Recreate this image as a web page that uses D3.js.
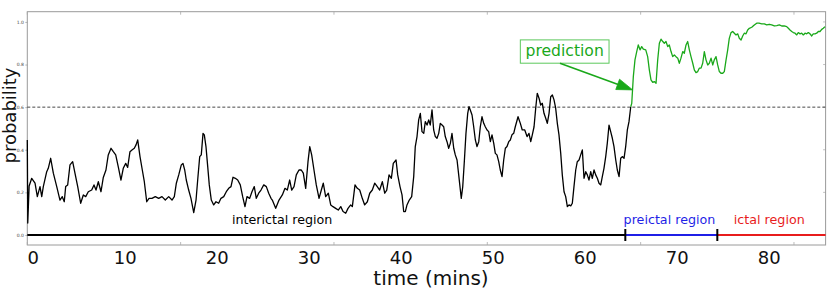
<!DOCTYPE html>
<html>
<head>
<meta charset="utf-8">
<script src="https://cdn.jsdelivr.net/npm/d3@7"></script>
<style>
    body { margin: 0; background: #fff; }
    text { font-family: "DejaVu Sans", sans-serif; }
</style>
</head>
<body>
<svg></svg>
<script>
// trace before the prediction (minutes, probability)
var interictalTrace = [
    [0.00, 0.446], [0.05, 0.056], [0.20, 0.230], [0.48, 0.266], [0.84, 0.243], [1.09, 0.180], [1.38, 0.227],
    [1.57, 0.180], [1.74, 0.227], [2.11, 0.297], [2.28, 0.313], [2.54, 0.360], [2.83, 0.290], [3.20, 0.227],
    [3.55, 0.164], [3.80, 0.180], [4.02, 0.156], [4.17, 0.227], [4.39, 0.235], [4.64, 0.329], [4.93, 0.344],
    [5.18, 0.290], [5.48, 0.227], [5.80, 0.149], [6.09, 0.188], [6.35, 0.180], [6.63, 0.203], [7.00, 0.211],
    [7.25, 0.235], [7.47, 0.211], [7.72, 0.250], [8.01, 0.203], [8.26, 0.270], [8.55, 0.305], [8.80, 0.376],
    [9.10, 0.407], [9.35, 0.391], [9.61, 0.376], [9.89, 0.320], [10.18, 0.258], [10.43, 0.313], [10.70, 0.336],
    [10.91, 0.317], [11.16, 0.391], [11.41, 0.400], [11.63, 0.407], [11.82, 0.423], [12.00, 0.446], [12.25, 0.368],
    [12.50, 0.305], [12.72, 0.250], [12.98, 0.156], [13.23, 0.172], [13.55, 0.172], [13.91, 0.180], [14.28, 0.172],
    [14.64, 0.180], [15.00, 0.164], [15.37, 0.180], [15.73, 0.164], [15.98, 0.180], [16.20, 0.243], [16.46, 0.282],
    [16.74, 0.329], [16.92, 0.336], [17.11, 0.305], [17.28, 0.258], [17.54, 0.211], [17.79, 0.172], [18.09, 0.105],
    [18.34, 0.164], [18.52, 0.258], [18.74, 0.368], [18.91, 0.376], [19.10, 0.477], [19.24, 0.470], [19.42, 0.415],
    [19.61, 0.321], [19.78, 0.235], [20.00, 0.164], [20.26, 0.141], [20.51, 0.156], [20.80, 0.149], [21.05, 0.172],
    [21.35, 0.180], [21.63, 0.203], [21.89, 0.219], [22.14, 0.227], [22.36, 0.271], [22.61, 0.266], [22.87, 0.258],
    [23.15, 0.235], [23.41, 0.180], [23.66, 0.133], [23.88, 0.180], [24.17, 0.172], [24.42, 0.203], [24.67, 0.227],
    [24.89, 0.172], [25.15, 0.196], [25.40, 0.211], [25.70, 0.235], [25.98, 0.227], [26.24, 0.196], [26.49, 0.172],
    [26.63, 0.164], [27.00, 0.125], [27.36, 0.164], [27.72, 0.188], [28.01, 0.219], [28.26, 0.211], [28.52, 0.258],
    [28.74, 0.211], [28.99, 0.227], [29.24, 0.282], [29.53, 0.305], [29.78, 0.305], [30.00, 0.290], [30.26, 0.219],
    [30.51, 0.344], [30.70, 0.415], [30.91, 0.376], [31.16, 0.305], [31.41, 0.235], [31.71, 0.172], [31.96, 0.211],
    [32.17, 0.243], [32.43, 0.180], [32.72, 0.196], [32.98, 0.141], [33.23, 0.133], [33.52, 0.125], [33.80, 0.117],
    [34.07, 0.133], [34.32, 0.110], [34.61, 0.102], [34.86, 0.125], [35.15, 0.141], [35.33, 0.133], [35.62, 0.235],
    [35.87, 0.219], [36.13, 0.211], [36.41, 0.172], [36.67, 0.141], [36.96, 0.156], [37.22, 0.196], [37.50, 0.211],
    [37.76, 0.243], [38.04, 0.227], [38.30, 0.211], [38.59, 0.250], [38.85, 0.196], [39.07, 0.211], [39.32, 0.282],
    [39.57, 0.266], [39.78, 0.336], [40.08, 0.352], [40.26, 0.282], [40.51, 0.227], [40.73, 0.188], [40.91, 0.110],
    [41.09, 0.110], [41.27, 0.141], [41.52, 0.164], [41.78, 0.180], [42.00, 0.274], [42.17, 0.415], [42.36, 0.462],
    [42.54, 0.540], [42.72, 0.571], [42.90, 0.485], [43.09, 0.477], [43.26, 0.532], [43.45, 0.516], [43.63, 0.540],
    [43.80, 0.516], [43.99, 0.587], [44.17, 0.493], [44.35, 0.462], [44.53, 0.454], [44.72, 0.477], [44.89, 0.524],
    [45.08, 0.516], [45.26, 0.508], [45.43, 0.462], [45.62, 0.438], [45.80, 0.407], [45.98, 0.430], [46.16, 0.477],
    [46.35, 0.407], [46.52, 0.376], [46.71, 0.352], [46.89, 0.282], [47.07, 0.211], [47.17, 0.172], [47.33, 0.227],
    [47.50, 0.344], [47.68, 0.477], [47.87, 0.571], [48.01, 0.602], [48.15, 0.587], [48.34, 0.563], [48.52, 0.508],
    [48.70, 0.446], [48.88, 0.415], [49.07, 0.438], [49.24, 0.508], [49.42, 0.555], [49.61, 0.524], [49.78, 0.508],
    [49.97, 0.493], [50.15, 0.485], [50.33, 0.438], [50.51, 0.470], [50.70, 0.430], [50.87, 0.383], [51.05, 0.376],
    [51.24, 0.344], [51.41, 0.305], [51.60, 0.274], [51.78, 0.352], [51.96, 0.407], [52.14, 0.415], [52.33, 0.438],
    [52.50, 0.446], [52.68, 0.470], [52.87, 0.477], [53.04, 0.508], [53.34, 0.555], [53.59, 0.524], [53.80, 0.493],
    [54.07, 0.493], [54.32, 0.462], [54.53, 0.477], [54.72, 0.438], [54.89, 0.470], [55.08, 0.508], [55.26, 0.595],
    [55.43, 0.665], [55.62, 0.642], [55.80, 0.610], [55.98, 0.618], [56.16, 0.571], [56.35, 0.548], [56.52, 0.524],
    [56.71, 0.571], [56.89, 0.649], [57.07, 0.657], [57.25, 0.634], [57.43, 0.595], [57.61, 0.524], [57.79, 0.470],
    [57.98, 0.383], [58.15, 0.282], [58.34, 0.203], [58.52, 0.180], [58.70, 0.133], [58.88, 0.141], [59.07, 0.137],
    [59.24, 0.149], [59.42, 0.227], [59.61, 0.305], [59.78, 0.344], [59.97, 0.352], [60.15, 0.376], [60.33, 0.399],
    [60.51, 0.266], [60.70, 0.297], [60.87, 0.282], [61.05, 0.258], [61.24, 0.297], [61.41, 0.266], [61.60, 0.305],
    [61.78, 0.282], [61.96, 0.266], [62.14, 0.243], [62.33, 0.235], [62.50, 0.274], [62.68, 0.313], [62.87, 0.368],
    [63.04, 0.430], [63.23, 0.516], [63.41, 0.485], [63.59, 0.454], [63.77, 0.415], [63.96, 0.352], [64.13, 0.305],
    [64.32, 0.274], [64.50, 0.360], [64.67, 0.368], [64.86, 0.360], [65.04, 0.415], [65.22, 0.493], [65.40, 0.532],
    [65.59, 0.602]
];

// trace after the prediction
var predictionTrace = [
    [65.59, 0.602], [65.70, 0.618], [65.87, 0.743], [66.05, 0.822], [66.24, 0.861], [66.41, 0.892], [66.60, 0.869],
    [66.78, 0.884], [66.96, 0.872], [67.22, 0.869], [67.43, 0.837], [67.61, 0.775], [67.79, 0.728], [67.98, 0.716],
    [68.15, 0.720], [68.34, 0.712], [68.52, 0.822], [68.70, 0.900], [68.88, 0.919], [69.07, 0.908], [69.24, 0.900],
    [69.42, 0.908], [69.61, 0.884], [69.78, 0.892], [69.97, 0.861], [70.15, 0.837], [70.33, 0.845], [70.51, 0.837],
    [70.70, 0.830], [70.87, 0.806], [71.05, 0.830], [71.24, 0.861], [71.41, 0.853], [71.60, 0.892], [71.78, 0.908],
    [71.96, 0.869], [72.14, 0.837], [72.33, 0.806], [72.50, 0.775], [72.68, 0.762], [72.87, 0.767], [73.04, 0.783],
    [73.23, 0.783], [73.41, 0.806], [73.59, 0.861], [73.77, 0.822], [73.96, 0.798], [74.13, 0.806], [74.32, 0.830],
    [74.50, 0.798], [74.67, 0.822], [74.86, 0.837], [75.04, 0.798], [75.22, 0.767], [75.40, 0.759], [75.59, 0.759],
    [75.76, 0.767], [75.95, 0.822], [76.13, 0.869], [76.30, 0.923], [76.49, 0.950], [76.67, 0.955], [76.85, 0.947],
    [77.03, 0.939], [77.22, 0.944], [77.39, 0.923], [77.58, 0.915], [77.76, 0.934], [77.93, 0.947], [78.12, 0.944],
    [78.30, 0.962], [78.48, 0.970], [78.74, 0.975], [79.02, 0.986], [79.28, 0.994], [79.53, 0.994], [79.83, 0.991],
    [80.11, 0.991], [80.37, 0.986], [80.65, 0.989], [80.91, 0.986], [81.20, 0.981], [81.46, 0.983], [81.74, 0.986],
    [82.00, 0.981], [82.28, 0.981], [82.54, 0.978], [82.72, 0.970], [82.90, 0.962], [83.09, 0.955], [83.26, 0.950],
    [83.45, 0.947], [83.63, 0.939], [83.80, 0.950], [83.99, 0.944], [84.17, 0.947], [84.35, 0.939], [84.53, 0.947],
    [84.72, 0.944], [84.89, 0.950], [85.08, 0.944], [85.26, 0.934], [85.43, 0.944], [85.62, 0.944], [85.80, 0.947],
    [85.98, 0.955], [86.16, 0.955], [86.35, 0.965], [86.52, 0.970], [86.71, 0.978]
];

var regionNames = ["interictal region", "preictal region", "ictal region"];
var regionStart = [0, 65, 75];
var regionEnd = [65, 75, 86.77];
var regionLabelAt = [27.7, 69.8, 80.65];

var threshold = 0.6;
var xTickLabels = [0, 10, 20, 30, 40, 50, 60, 70, 80];
var yTickValues = [0.0, 0.2, 0.4, 0.6, 0.8, 1.0];
var minorTicks = [0, 1000, 2000, 3000, 4000, 5000];   // seconds

var predictionText = "prediction";
var predictionPoint = [65.8, 0.681];
var predictionLabelPos = [58.41, 0.861];

var green = "#1aa81a";
var regionColors = ["#000000", "#1f1fe6", "#e81c1c"];

///////////////////////////////////////////////////////
// canvas
var svgWidth = 830,
    svgHeight = 291;
var margin = { top: 11.7, right: 4.4, bottom: 46, left: 27.3 };
var width = svgWidth - margin.left - margin.right;
var height = svgHeight - margin.top - margin.bottom;

var svg = d3.select("svg")
    .attr("width", svgWidth)
    .attr("height", svgHeight);

var g = svg.append("g")
    .attr("transform", "translate(" + margin.left + "," + margin.top + ")");

var x = d3.scaleLinear().domain([0, 86.77]).range([0, width]);
var y = d3.scaleLinear().domain([-0.047, 1.048]).range([height, 0]);

// frame
g.append("rect")
    .attr("width", width)
    .attr("height", height)
    .attr("fill", "none")
    .attr("stroke", "#9a9a9a")
    .attr("stroke-width", 1);

// small inward ticks every 1000 s on top and bottom
minorTicks.forEach(function (s) {
    var px = x(s / 60);
    g.append("line").attr("x1", px).attr("x2", px).attr("y1", 0).attr("y2", 3)
        .attr("stroke", "#aaa").attr("stroke-width", 0.8);
    g.append("line").attr("x1", px).attr("x2", px).attr("y1", height - 3).attr("y2", height)
        .attr("stroke", "#aaa").attr("stroke-width", 0.8);
});

// y axis (tiny labels)
var yAxis = g.append("g")
    .call(d3.axisLeft(y).tickValues(yTickValues).tickFormat(d3.format(".1f")).tickSize(2).tickPadding(1.5));
yAxis.select(".domain").remove();
yAxis.selectAll("line").attr("stroke", "#888").attr("stroke-width", 0.6);
yAxis.selectAll("text").attr("font-size", "4.5px").attr("fill", "#444")
    .attr("font-family", "DejaVu Sans");

// right side ticks
yTickValues.forEach(function (v) {
    g.append("line").attr("x1", width - 2.5).attr("x2", width).attr("y1", y(v)).attr("y2", y(v))
        .attr("stroke", "#999").attr("stroke-width", 0.6);
});

// x tick labels, drawn slightly right of the tick position
g.append("g")
    .selectAll("text")
    .data(xTickLabels)
    .enter()
    .append("text")
    .attr("x", d => x(d) + 6)
    .attr("y", height + 19)
    .attr("text-anchor", "middle")
    .attr("font-size", "18px")
    .attr("fill", "#111")
    .text(d => d);

// axis titles
svg.append("text")
    .attr("x", 431)
    .attr("y", 285)
    .attr("text-anchor", "middle")
    .attr("font-size", "20px")
    .attr("fill", "#111")
    .text("time (mins)");

svg.append("text")
    .attr("transform", "translate(16,115.5) rotate(-90)")
    .attr("text-anchor", "middle")
    .attr("font-size", "18px")
    .attr("fill", "#111")
    .text("probability");

// threshold
g.append("line")
    .attr("x1", 0).attr("x2", width)
    .attr("y1", y(threshold)).attr("y2", y(threshold))
    .attr("stroke", "#333")
    .attr("stroke-width", 0.9)
    .attr("stroke-dasharray", "3,2");

// region bars along zero
regionNames.forEach(function (name, i) {
    g.append("line")
        .attr("x1", x(regionStart[i])).attr("x2", x(regionEnd[i]))
        .attr("y1", y(0)).attr("y2", y(0))
        .attr("stroke", regionColors[i])
        .attr("stroke-width", 2.2);
    g.append("text")
        .attr("x", x(regionLabelAt[i]))
        .attr("y", y(0) - 11)
        .attr("text-anchor", "middle")
        .attr("font-size", "12.7px")
        .attr("fill", regionColors[i])
        .text(name);
});

// boundary markers
[regionStart[1], regionStart[2]].forEach(function (b) {
    g.append("line")
        .attr("x1", x(b)).attr("x2", x(b))
        .attr("y1", y(0) - 6).attr("y2", y(0) + 6)
        .attr("stroke", "#000")
        .attr("stroke-width", 2);
});

// traces
var line = d3.line()
    .x(d => x(d[0]))
    .y(d => y(d[1]));

g.append("path")
    .datum(interictalTrace)
    .attr("d", line)
    .attr("fill", "none")
    .attr("stroke", "#000")
    .attr("stroke-width", 1.3)
    .attr("stroke-linejoin", "round");

g.append("path")
    .datum(predictionTrace)
    .attr("d", line)
    .attr("fill", "none")
    .attr("stroke", green)
    .attr("stroke-width", 1.3)
    .attr("stroke-linejoin", "round");

// annotation box + arrow
var cx = x(predictionLabelPos[0]),
    cy = y(predictionLabelPos[1]);
var boxW = 88.7,
    boxH = 23.3;

g.append("rect")
    .attr("x", cx - boxW / 2)
    .attr("y", cy - boxH / 2)
    .attr("width", boxW)
    .attr("height", boxH)
    .attr("fill", "#fff")
    .attr("stroke", "#5cc85c")
    .attr("stroke-width", 1);

g.append("text")
    .attr("x", cx)
    .attr("y", cy + 4.5)
    .attr("text-anchor", "middle")
    .attr("font-size", "15.6px")
    .attr("fill", green)
    .text(predictionText);

var tx = cx - 4.7,
    ty = cy + boxH / 2;
var hx = x(predictionPoint[0]),
    hy = y(predictionPoint[1]);
var dx = hx - tx,
    dy = hy - ty,
    len = Math.sqrt(dx * dx + dy * dy);
var ux = dx / len,
    uy = dy / len;
var headLen = 16,
    headW = 5.5;

g.append("line")
    .attr("x1", tx).attr("y1", ty)
    .attr("x2", hx - ux * (headLen - 2)).attr("y2", hy - uy * (headLen - 2))
    .attr("stroke", green)
    .attr("stroke-width", 1.6);

var bx = hx - ux * headLen,
    by = hy - uy * headLen;
g.append("path")
    .attr("d", "M" + hx + "," + hy +
        "L" + (bx - uy * headW) + "," + (by + ux * headW) +
        "L" + (bx + uy * headW) + "," + (by - ux * headW) + "Z")
    .attr("fill", green)
    .attr("stroke", green)
    .attr("stroke-width", 0.8);
</script>
</body>
</html>
